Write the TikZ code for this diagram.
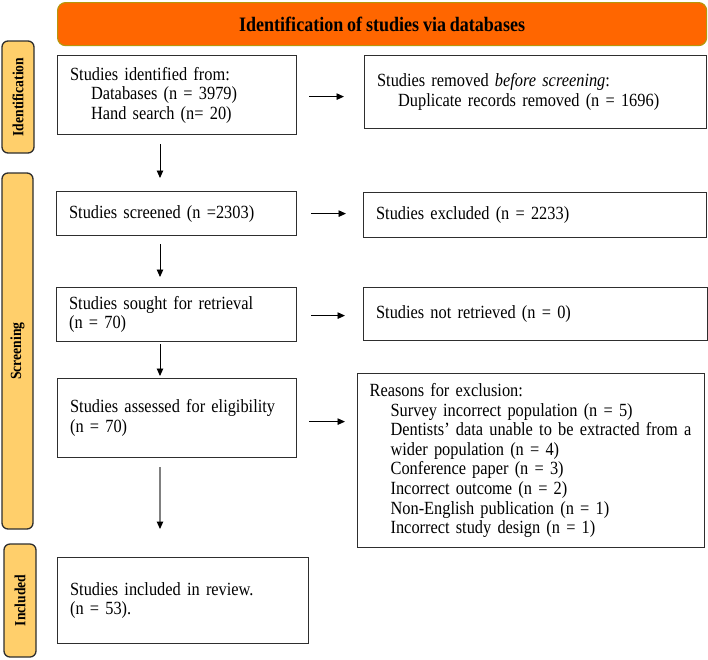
\documentclass[tikz,border=0pt]{standalone}
\usepackage{fontspec}
\setmainfont{Liberation Serif}[FakeStretch=0.88,WordSpace=0.85]
\usetikzlibrary{arrows.meta}
\definecolor{titleorange}{HTML}{FF6600}
\definecolor{titleedge}{HTML}{B8960B}
\definecolor{labelfill}{HTML}{FFCF6B}
\definecolor{boxedge}{HTML}{2E2E2E}
\tikzset{
  box/.style={draw=boxedge, line width=1.2pt, align=left, anchor=north west,
    inner xsep=12.5pt, inner ysep=0pt,
    font=\fontsize{18.6}{19.5}\selectfont},
  phase/.style={draw=boxedge, line width=1.3pt, fill=labelfill, rounded corners=6pt},
  phasetext/.style={rotate=90, font=\bfseries\fontsize{15.5}{16}\selectfont},
  arr/.style={draw=black, line width=0.9pt, -{Triangle[length=7.5pt,width=6.5pt]}},
}
\newcommand{\ind}{\hspace*{21pt}}
\begin{document}
\begin{tikzpicture}[x=1pt,y=-1pt]
\useasboundingbox (0,0) rectangle (708,659);
% title bar
\node[draw=titleedge, line width=1.2pt, fill=titleorange, rounded corners=8pt,
  minimum width=649pt, minimum height=43pt, anchor=north west, inner sep=0pt,
  font=\bfseries\fontsize{20.5}{22}\selectfont] (title) at (57,2)
  {Identification of studies via databases};
% phase labels
\draw[phase] (2,41) rectangle (34,153);
\node[phasetext] (pid) at (18,97) {Identification};
\draw[phase] (2,173) rectangle (33,529);
\node[phasetext] (pscr) at (17.5,351) {Screening};
\draw[phase] (4,544) rectangle (36,657);
\node[phasetext] (pinc) at (20,600.5) {Included};
% boxes
\node[box, text width=214pt, minimum height=79pt] (ident) at (57,55)
  {Studies identified from:\\ \ind Databases (n = 3979)\\ \ind Hand search (n= 20)};
\node[box, text width=317pt, minimum height=73pt] (dup) at (364,55)
  {Studies removed \textit{before screening}:\\ \ind Duplicate records removed (n = 1696)};
\node[box, text width=215pt, minimum height=44pt] (scr) at (56,191)
  {Studies screened (n =2303)};
\node[box, text width=318pt, minimum height=45pt] (exc) at (363,192)
  {Studies excluded (n = 2233)};
\node[box, text width=215pt, minimum height=54pt] (sought) at (56,287)
  {Studies sought for retrieval\\(n = 70)};
\node[box, text width=319pt, minimum height=53pt] (notret) at (363,287)
  {Studies not retrieved (n = 0)};
\node[box, text width=214pt, minimum height=79pt] (elig) at (57,378)
  {Studies assessed for eligibility\\(n = 70)};
\node[box, text width=323pt, minimum height=174pt, inner xsep=12pt,
  font=\fontsize{18.6}{19.6}\selectfont] (reasons) at (357,373)
  {Reasons for exclusion:\\
   \ind Survey incorrect population (n = 5)\\
   \ind Dentists’ data unable to be extracted from a\\
   \ind wider population (n = 4)\\
   \ind Conference paper (n = 3)\\
   \ind Incorrect outcome (n = 2)\\
   \ind Non-English publication (n = 1)\\
   \ind Incorrect study design (n = 1)};
\node[box, text width=226pt, minimum height=86pt] (incl) at (57,557)
  {Studies included in review.\\(n = 53).};
% column for vertical arrows
\coordinate (col) at (160,0);
% horizontal arrows
\draw[arr, shorten <=12pt, shorten >=20pt] ([yshift=-1.5pt]ident.east) -- ([yshift=-1.5pt]ident.east -| dup.west);
\draw[arr, shorten <=14pt, shorten >=17pt] (scr.east) -- (scr.east -| exc.west);
\draw[arr, shorten <=14pt, shorten >=18pt] ([yshift=-1pt]sought.east) -- ([yshift=-1pt]sought.east -| notret.west);
\draw[arr, shorten <=12pt, shorten >=12pt] ([yshift=-3.5pt]elig.east) -- ([yshift=-3.5pt]elig.east -| reasons.west);
% vertical arrows
\draw[arr, shorten <=9pt, shorten >=13pt] (ident.south -| col) -- (scr.north -| col);
\draw[arr, shorten <=8pt, shorten >=10pt] (scr.south -| col) -- (sought.north -| col);
\draw[arr, shorten <=2pt, shorten >=2pt] (sought.south -| col) -- (elig.north -| col);
\draw[draw=black!50, line width=1.1pt, shorten <=9pt, shorten >=28pt,
  -{Triangle[length=7.5pt,width=6.5pt,color=black]}] (elig.south -| col) -- (incl.north -| col);
\end{tikzpicture}
\end{document}
